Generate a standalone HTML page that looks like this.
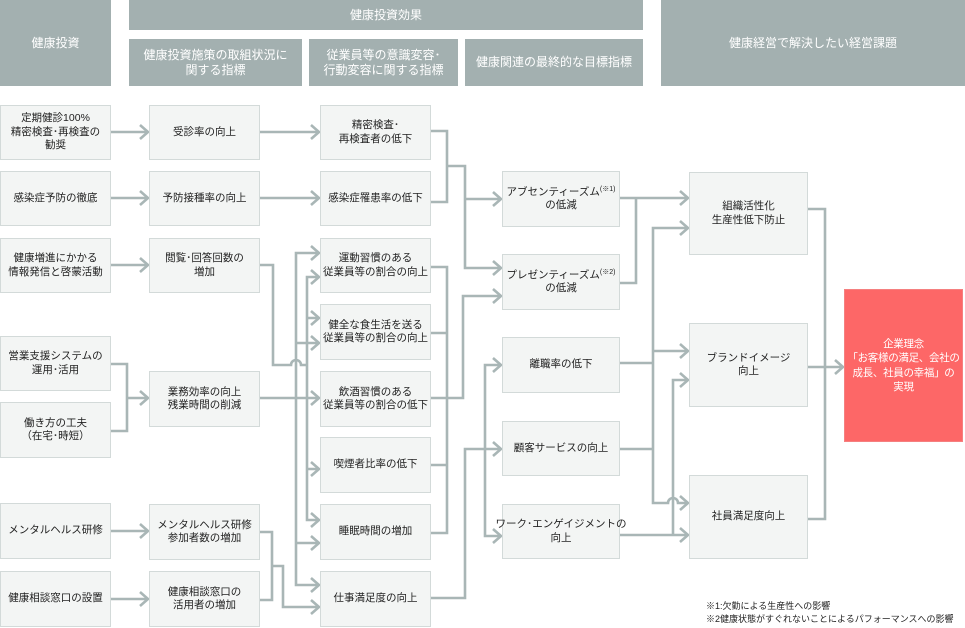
<!DOCTYPE html>
<html lang="ja"><head><meta charset="utf-8"><style>
html,body{margin:0;padding:0;background:#fff;}
body{width:965px;height:628px;position:relative;overflow:hidden;font-family:"Liberation Sans","Noto Sans CJK JP",sans-serif;}
.h{position:absolute;background:#a3b0b0;color:#fff;font-size:12px;line-height:15px;display:flex;align-items:center;justify-content:center;text-align:center;}
.b{position:absolute;box-sizing:border-box;background:#f3f5f4;border:1px solid #d3dad9;color:#222;font-size:10.5px;line-height:13.5px;display:flex;align-items:center;justify-content:center;text-align:center;white-space:nowrap;}
.r{position:absolute;box-sizing:border-box;background:#fd6767;border:1px solid #f58080;color:#fff;font-size:10.5px;line-height:14.5px;letter-spacing:-0.3px;display:flex;align-items:center;justify-content:center;text-align:center;white-space:nowrap;}
sup{font-size:7px;vertical-align:4px;line-height:0;}
svg{position:absolute;left:0;top:0;}
.fn{position:absolute;left:706px;top:600px;font-size:9px;line-height:13px;color:#222;white-space:nowrap;}
</style></head><body>

<div class="h" style="left:0;top:0;width:111px;height:86px;"><span>健康投資</span></div>
<div class="h" style="left:129px;top:0;width:514px;height:30px;"><span>健康投資効果</span></div>
<div class="h" style="left:129px;top:39px;width:173px;height:47px;"><span>健康投資施策の取組状況に<br>関する指標</span></div>
<div class="h" style="left:309px;top:39px;width:149px;height:47px;"><span>従業員等の意識変容･<br>行動変容に関する指標</span></div>
<div class="h" style="left:465px;top:39px;width:178px;height:47px;"><span>健康関連の最終的な目標指標</span></div>
<div class="h" style="left:661px;top:0;width:304px;height:86px;"><span>健康経営で解決したい経営課題</span></div>

<svg width="965" height="628" viewBox="0 0 965 628">
<g fill="none" stroke="#a9b6b6" stroke-width="2.6" stroke-linejoin="miter">
<path d="M111,132 H148 M260,132 H319 M111,198 H148 M260,198 H319 M111,265 H148"/>
<path d="M111,364 H127 V431 H111 M127,398 H148"/>
<path d="M111,531 H148 M111,599 H148"/>
<path d="M260,265 H273 V365 H291 a5,5 0 0 1 10,0 H307"/>
<path d="M319,277 H307 V520 H319 M307,318 H319 M307,469 H319"/>
<path d="M260,398 H319"/>
<path d="M319,253 H296 V585 H319 M296,343 H319 M296,543 H319"/>
<path d="M260,532 H272 V600 H260 M272,566 H283 V607 H319"/>
<path d="M431,131 H447 V202 H431 M447,166 H465 V268 H501 M465,199 H501"/>
<path d="M431,267 H447 V533 H431 M431,333 H447 M431,465 H447 M431,398 H463 V296 H501"/>
<path d="M431,598 H465 V449 H501 M501,365 H485 V536 H501"/>
<path d="M620,198 H688 M620,283 H636 V198"/>
<path d="M688,228 H653 V503 H668 a5,5 0 0 1 10,0 H688 M653,351 H688 M620,363 H653 M620,449 H653"/>
<path d="M688,380 H673 V535 M620,535 H688"/>
<path d="M808,209 H825 V519 H808 M808,367 H843"/>
<path d="M140,125 L148,132 L140,139 M311,125 L319,132 L311,139 M140,191 L148,198 L140,205 M311,191 L319,198 L311,205 M140,258 L148,265 L140,272 M140,391 L148,398 L140,405 M140,524 L148,531 L140,538 M140,592 L148,599 L140,606"/>
<path d="M311,246 L319,253 L311,260 M311,270 L319,277 L311,284 M311,311 L319,318 L311,325 M311,336 L319,343 L311,350 M311,391 L319,398 L311,405 M311,462 L319,469 L311,476 M311,513 L319,520 L311,527 M311,536 L319,543 L311,550 M311,578 L319,585 L311,592 M311,600 L319,607 L311,614"/>
<path d="M493,192 L501,199 L493,206 M493,261 L501,268 L493,275 M493,289 L501,296 L493,303 M493,358 L501,365 L493,372 M493,442 L501,449 L493,456 M493,529 L501,536 L493,543"/>
<path d="M680,191 L688,198 L680,205 M680,221 L688,228 L680,235 M680,344 L688,351 L680,358 M680,373 L688,380 L680,387 M680,496 L688,503 L680,510 M680,528 L688,535 L680,542 M835,360 L843,367 L835,374"/>
</g>
</svg>

<div class="b" style="left:0;top:105px;width:111px;height:55px;"><span>定期健診100%<br>精密検査･再検査の<br>勧奨</span></div>
<div class="b" style="left:0;top:171px;width:111px;height:55px;"><span>感染症予防の徹底</span></div>
<div class="b" style="left:0;top:238px;width:111px;height:55px;"><span>健康増進にかかる<br>情報発信と啓蒙活動</span></div>
<div class="b" style="left:0;top:336px;width:111px;height:55px;"><span>営業支援システムの<br>運用･活用</span></div>
<div class="b" style="left:0;top:402px;width:111px;height:56px;"><span>働き方の工夫<br>（在宅･時短）</span></div>
<div class="b" style="left:0;top:503px;width:111px;height:56px;"><span>メンタルヘルス研修</span></div>
<div class="b" style="left:0;top:571px;width:111px;height:56px;"><span>健康相談窓口の設置</span></div>

<div class="b" style="left:149px;top:105px;width:111px;height:55px;"><span>受診率の向上</span></div>
<div class="b" style="left:149px;top:171px;width:111px;height:55px;"><span>予防接種率の向上</span></div>
<div class="b" style="left:149px;top:238px;width:111px;height:55px;"><span>閲覧･回答回数の<br>増加</span></div>
<div class="b" style="left:149px;top:371px;width:111px;height:56px;"><span>業務効率の向上<br>残業時間の削減</span></div>
<div class="b" style="left:149px;top:504px;width:111px;height:56px;"><span>メンタルヘルス研修<br>参加者数の増加</span></div>
<div class="b" style="left:149px;top:571px;width:111px;height:56px;"><span>健康相談窓口の<br>活用者の増加</span></div>

<div class="b" style="left:320px;top:105px;width:111px;height:55px;"><span>精密検査･<br>再検査者の低下</span></div>
<div class="b" style="left:320px;top:171px;width:111px;height:55px;"><span>感染症罹患率の低下</span></div>
<div class="b" style="left:320px;top:238px;width:111px;height:55px;"><span>運動習慣のある<br>従業員等の割合の向上</span></div>
<div class="b" style="left:320px;top:304px;width:111px;height:56px;"><span>健全な食生活を送る<br>従業員等の割合の向上</span></div>
<div class="b" style="left:320px;top:371px;width:111px;height:56px;"><span>飲酒習慣のある<br>従業員等の割合の低下</span></div>
<div class="b" style="left:320px;top:437px;width:111px;height:56px;"><span>喫煙者比率の低下</span></div>
<div class="b" style="left:320px;top:504px;width:111px;height:56px;"><span>睡眠時間の増加</span></div>
<div class="b" style="left:320px;top:571px;width:111px;height:56px;"><span>仕事満足度の向上</span></div>

<div class="b" style="left:502px;top:171px;width:118px;height:56px;"><span>アブセンティーズム<sup>(※1)</sup><br>の低減</span></div>
<div class="b" style="left:502px;top:254px;width:118px;height:56px;"><span>プレゼンティーズム<sup>(※2)</sup><br>の低減</span></div>
<div class="b" style="left:502px;top:337px;width:118px;height:56px;"><span>離職率の低下</span></div>
<div class="b" style="left:502px;top:421px;width:118px;height:55px;"><span>顧客サービスの向上</span></div>
<div class="b" style="left:502px;top:504px;width:118px;height:55px;"><span>ワーク･エンゲイジメントの<br>向上</span></div>

<div class="b" style="left:689px;top:172px;width:119px;height:83px;"><span>組織活性化<br>生産性低下防止</span></div>
<div class="b" style="left:689px;top:323px;width:119px;height:84px;"><span>ブランドイメージ<br>向上</span></div>
<div class="b" style="left:689px;top:475px;width:119px;height:84px;"><span>社員満足度向上</span></div>

<div class="r" style="left:844px;top:289px;width:119px;height:153px;"><span>企業理念<br>「お客様の満足、会社の<br>成長、社員の幸福」の<br>実現</span></div>

<div class="fn">※1:欠勤による生産性への影響<br>※2健康状態がすぐれないことによるパフォーマンスへの影響</div>

</body></html>
